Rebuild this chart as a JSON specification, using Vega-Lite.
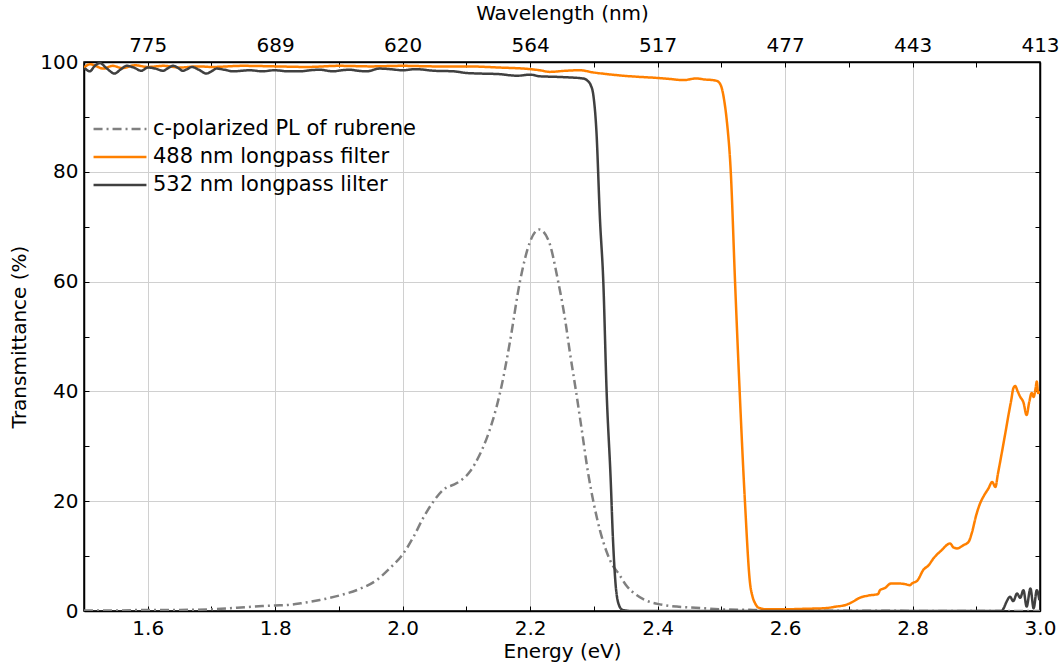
{
  "$schema": "https://vega.github.io/schema/vega-lite/v6.json",
  "width": 956,
  "height": 549,
  "autosize": {"type": "none"},
  "padding": {"left": 84, "top": 62, "right": 23, "bottom": 55},
  "background": "white",
  "config": {
    "font": "DejaVu Sans",
    "view": {"stroke": "black", "strokeWidth": 1.5},
    "axis": {
      "labelFont": "DejaVu Sans", "labelFontSize": 20, "labelColor": "black",
      "titleFont": "DejaVu Sans", "titleFontSize": 20, "titleFontWeight": "normal", "titleColor": "black",
      "domainColor": "black", "domainWidth": 1.5, "tickColor": "black", "tickWidth": 1,
      "gridColor": "#d0d0d0", "gridWidth": 1, "labelOverlap": false, "labelFlush": false
    }
  },
  "data": {"values": [
    {"E":1.50,"T":0.1,"s":"c-polarized PL of rubrene"},
    {"E":1.55,"T":0.1,"s":"c-polarized PL of rubrene"},
    {"E":1.60,"T":0.2,"s":"c-polarized PL of rubrene"},
    {"E":1.65,"T":0.2,"s":"c-polarized PL of rubrene"},
    {"E":1.70,"T":0.3,"s":"c-polarized PL of rubrene"},
    {"E":1.74,"T":0.6,"s":"c-polarized PL of rubrene"},
    {"E":1.78,"T":0.9,"s":"c-polarized PL of rubrene"},
    {"E":1.80,"T":1.0,"s":"c-polarized PL of rubrene"},
    {"E":1.82,"T":1.1,"s":"c-polarized PL of rubrene"},
    {"E":1.84,"T":1.4,"s":"c-polarized PL of rubrene"},
    {"E":1.87,"T":2.0,"s":"c-polarized PL of rubrene"},
    {"E":1.90,"T":2.8,"s":"c-polarized PL of rubrene"},
    {"E":1.93,"T":3.9,"s":"c-polarized PL of rubrene"},
    {"E":1.96,"T":5.7,"s":"c-polarized PL of rubrene"},
    {"E":1.98,"T":7.8,"s":"c-polarized PL of rubrene"},
    {"E":2.00,"T":10.3,"s":"c-polarized PL of rubrene"},
    {"E":2.017,"T":13.5,"s":"c-polarized PL of rubrene"},
    {"E":2.032,"T":16.9,"s":"c-polarized PL of rubrene"},
    {"E":2.048,"T":19.9,"s":"c-polarized PL of rubrene"},
    {"E":2.064,"T":22.1,"s":"c-polarized PL of rubrene"},
    {"E":2.085,"T":23.3,"s":"c-polarized PL of rubrene"},
    {"E":2.105,"T":25.3,"s":"c-polarized PL of rubrene"},
    {"E":2.121,"T":28.5,"s":"c-polarized PL of rubrene"},
    {"E":2.132,"T":31.5,"s":"c-polarized PL of rubrene"},
    {"E":2.14,"T":34.2,"s":"c-polarized PL of rubrene"},
    {"E":2.155,"T":40.9,"s":"c-polarized PL of rubrene"},
    {"E":2.168,"T":48.8,"s":"c-polarized PL of rubrene"},
    {"E":2.184,"T":60.0,"s":"c-polarized PL of rubrene"},
    {"E":2.20,"T":67.3,"s":"c-polarized PL of rubrene"},
    {"E":2.214,"T":69.5,"s":"c-polarized PL of rubrene"},
    {"E":2.2285,"T":67.6,"s":"c-polarized PL of rubrene"},
    {"E":2.244,"T":60.0,"s":"c-polarized PL of rubrene"},
    {"E":2.255,"T":53.0,"s":"c-polarized PL of rubrene"},
    {"E":2.2625,"T":47.0,"s":"c-polarized PL of rubrene"},
    {"E":2.272,"T":40.0,"s":"c-polarized PL of rubrene"},
    {"E":2.281,"T":33.0,"s":"c-polarized PL of rubrene"},
    {"E":2.291,"T":25.1,"s":"c-polarized PL of rubrene"},
    {"E":2.30,"T":19.5,"s":"c-polarized PL of rubrene"},
    {"E":2.31,"T":14.5,"s":"c-polarized PL of rubrene"},
    {"E":2.32,"T":10.8,"s":"c-polarized PL of rubrene"},
    {"E":2.33,"T":8.2,"s":"c-polarized PL of rubrene"},
    {"E":2.339,"T":6.8,"s":"c-polarized PL of rubrene"},
    {"E":2.35,"T":4.8,"s":"c-polarized PL of rubrene"},
    {"E":2.367,"T":2.9,"s":"c-polarized PL of rubrene"},
    {"E":2.38,"T":2.0,"s":"c-polarized PL of rubrene"},
    {"E":2.40,"T":1.3,"s":"c-polarized PL of rubrene"},
    {"E":2.43,"T":0.8,"s":"c-polarized PL of rubrene"},
    {"E":2.46,"T":0.6,"s":"c-polarized PL of rubrene"},
    {"E":2.50,"T":0.3,"s":"c-polarized PL of rubrene"},
    {"E":2.55,"T":0.2,"s":"c-polarized PL of rubrene"},
    {"E":2.60,"T":0.1,"s":"c-polarized PL of rubrene"},
    {"E":2.70,"T":0.05,"s":"c-polarized PL of rubrene"},
    {"E":2.80,"T":0.02,"s":"c-polarized PL of rubrene"},
    {"E":3.00,"T":0.0,"s":"c-polarized PL of rubrene"},
    {"E":1.500,"T":99.0,"s":"488 nm longpass filter"},
    {"E":1.510,"T":99.6,"s":"488 nm longpass filter"},
    {"E":1.520,"T":99.2,"s":"488 nm longpass filter"},
    {"E":1.530,"T":98.8,"s":"488 nm longpass filter"},
    {"E":1.545,"T":99.3,"s":"488 nm longpass filter"},
    {"E":1.560,"T":98.9,"s":"488 nm longpass filter"},
    {"E":1.580,"T":99.4,"s":"488 nm longpass filter"},
    {"E":1.600,"T":99.1,"s":"488 nm longpass filter"},
    {"E":1.625,"T":99.3,"s":"488 nm longpass filter"},
    {"E":1.650,"T":99.0,"s":"488 nm longpass filter"},
    {"E":1.680,"T":99.2,"s":"488 nm longpass filter"},
    {"E":1.700,"T":99.1,"s":"488 nm longpass filter"},
    {"E":1.750,"T":99.3,"s":"488 nm longpass filter"},
    {"E":1.800,"T":99.2,"s":"488 nm longpass filter"},
    {"E":1.850,"T":99.1,"s":"488 nm longpass filter"},
    {"E":1.900,"T":99.3,"s":"488 nm longpass filter"},
    {"E":1.950,"T":99.2,"s":"488 nm longpass filter"},
    {"E":2.000,"T":99.3,"s":"488 nm longpass filter"},
    {"E":2.050,"T":99.2,"s":"488 nm longpass filter"},
    {"E":2.100,"T":99.2,"s":"488 nm longpass filter"},
    {"E":2.150,"T":99.0,"s":"488 nm longpass filter"},
    {"E":2.200,"T":98.7,"s":"488 nm longpass filter"},
    {"E":2.215,"T":98.5,"s":"488 nm longpass filter"},
    {"E":2.231,"T":98.2,"s":"488 nm longpass filter"},
    {"E":2.255,"T":98.4,"s":"488 nm longpass filter"},
    {"E":2.278,"T":98.5,"s":"488 nm longpass filter"},
    {"E":2.299,"T":98.1,"s":"488 nm longpass filter"},
    {"E":2.320,"T":97.8,"s":"488 nm longpass filter"},
    {"E":2.346,"T":97.5,"s":"488 nm longpass filter"},
    {"E":2.370,"T":97.3,"s":"488 nm longpass filter"},
    {"E":2.399,"T":97.1,"s":"488 nm longpass filter"},
    {"E":2.420,"T":96.9,"s":"488 nm longpass filter"},
    {"E":2.440,"T":96.7,"s":"488 nm longpass filter"},
    {"E":2.461,"T":97.0,"s":"488 nm longpass filter"},
    {"E":2.475,"T":96.8,"s":"488 nm longpass filter"},
    {"E":2.487,"T":96.7,"s":"488 nm longpass filter"},
    {"E":2.494,"T":96.5,"s":"488 nm longpass filter"},
    {"E":2.500,"T":95.5,"s":"488 nm longpass filter"},
    {"E":2.5045,"T":93.0,"s":"488 nm longpass filter"},
    {"E":2.5085,"T":89.4,"s":"488 nm longpass filter"},
    {"E":2.5148,"T":80.0,"s":"488 nm longpass filter"},
    {"E":2.5215,"T":60.0,"s":"488 nm longpass filter"},
    {"E":2.528,"T":42.0,"s":"488 nm longpass filter"},
    {"E":2.537,"T":20.0,"s":"488 nm longpass filter"},
    {"E":2.545,"T":5.1,"s":"488 nm longpass filter"},
    {"E":2.549,"T":2.6,"s":"488 nm longpass filter"},
    {"E":2.553,"T":1.4,"s":"488 nm longpass filter"},
    {"E":2.557,"T":0.7,"s":"488 nm longpass filter"},
    {"E":2.561,"T":0.5,"s":"488 nm longpass filter"},
    {"E":2.571,"T":0.3,"s":"488 nm longpass filter"},
    {"E":2.598,"T":0.3,"s":"488 nm longpass filter"},
    {"E":2.630,"T":0.4,"s":"488 nm longpass filter"},
    {"E":2.661,"T":0.5,"s":"488 nm longpass filter"},
    {"E":2.680,"T":0.8,"s":"488 nm longpass filter"},
    {"E":2.695,"T":1.1,"s":"488 nm longpass filter"},
    {"E":2.705,"T":1.6,"s":"488 nm longpass filter"},
    {"E":2.717,"T":2.4,"s":"488 nm longpass filter"},
    {"E":2.730,"T":2.8,"s":"488 nm longpass filter"},
    {"E":2.746,"T":3.1,"s":"488 nm longpass filter"},
    {"E":2.749,"T":3.8,"s":"488 nm longpass filter"},
    {"E":2.757,"T":4.2,"s":"488 nm longpass filter"},
    {"E":2.766,"T":5.0,"s":"488 nm longpass filter"},
    {"E":2.779,"T":5.0,"s":"488 nm longpass filter"},
    {"E":2.788,"T":4.9,"s":"488 nm longpass filter"},
    {"E":2.796,"T":4.7,"s":"488 nm longpass filter"},
    {"E":2.799,"T":5.0,"s":"488 nm longpass filter"},
    {"E":2.808,"T":5.6,"s":"488 nm longpass filter"},
    {"E":2.817,"T":7.5,"s":"488 nm longpass filter"},
    {"E":2.825,"T":8.3,"s":"488 nm longpass filter"},
    {"E":2.833,"T":9.6,"s":"488 nm longpass filter"},
    {"E":2.845,"T":11.0,"s":"488 nm longpass filter"},
    {"E":2.859,"T":12.3,"s":"488 nm longpass filter"},
    {"E":2.864,"T":11.6,"s":"488 nm longpass filter"},
    {"E":2.870,"T":11.4,"s":"488 nm longpass filter"},
    {"E":2.880,"T":12.0,"s":"488 nm longpass filter"},
    {"E":2.888,"T":12.6,"s":"488 nm longpass filter"},
    {"E":2.893,"T":14.2,"s":"488 nm longpass filter"},
    {"E":2.900,"T":17.5,"s":"488 nm longpass filter"},
    {"E":2.906,"T":19.6,"s":"488 nm longpass filter"},
    {"E":2.912,"T":21.0,"s":"488 nm longpass filter"},
    {"E":2.919,"T":22.3,"s":"488 nm longpass filter"},
    {"E":2.925,"T":23.5,"s":"488 nm longpass filter"},
    {"E":2.930,"T":22.6,"s":"488 nm longpass filter"},
    {"E":2.934,"T":25.0,"s":"488 nm longpass filter"},
    {"E":2.938,"T":27.5,"s":"488 nm longpass filter"},
    {"E":2.945,"T":32.0,"s":"488 nm longpass filter"},
    {"E":2.951,"T":36.0,"s":"488 nm longpass filter"},
    {"E":2.955,"T":38.5,"s":"488 nm longpass filter"},
    {"E":2.958,"T":40.5,"s":"488 nm longpass filter"},
    {"E":2.961,"T":41.0,"s":"488 nm longpass filter"},
    {"E":2.965,"T":40.0,"s":"488 nm longpass filter"},
    {"E":2.969,"T":39.0,"s":"488 nm longpass filter"},
    {"E":2.974,"T":38.0,"s":"488 nm longpass filter"},
    {"E":2.979,"T":35.7,"s":"488 nm longpass filter"},
    {"E":2.983,"T":38.0,"s":"488 nm longpass filter"},
    {"E":2.987,"T":39.7,"s":"488 nm longpass filter"},
    {"E":2.990,"T":39.0,"s":"488 nm longpass filter"},
    {"E":2.993,"T":40.5,"s":"488 nm longpass filter"},
    {"E":2.995,"T":41.8,"s":"488 nm longpass filter"},
    {"E":2.997,"T":39.7,"s":"488 nm longpass filter"},
    {"E":3.000,"T":40.0,"s":"488 nm longpass filter"},
    {"E":1.501,"T":98.9,"s":"532 nm longpass lilter"},
    {"E":1.509,"T":98.3,"s":"532 nm longpass lilter"},
    {"E":1.517,"T":99.3,"s":"532 nm longpass lilter"},
    {"E":1.525,"T":99.8,"s":"532 nm longpass lilter"},
    {"E":1.535,"T":98.9,"s":"532 nm longpass lilter"},
    {"E":1.548,"T":97.9,"s":"532 nm longpass lilter"},
    {"E":1.557,"T":98.6,"s":"532 nm longpass lilter"},
    {"E":1.567,"T":99.3,"s":"532 nm longpass lilter"},
    {"E":1.578,"T":99.0,"s":"532 nm longpass lilter"},
    {"E":1.590,"T":98.4,"s":"532 nm longpass lilter"},
    {"E":1.600,"T":99.0,"s":"532 nm longpass lilter"},
    {"E":1.612,"T":98.8,"s":"532 nm longpass lilter"},
    {"E":1.624,"T":98.4,"s":"532 nm longpass lilter"},
    {"E":1.632,"T":98.9,"s":"532 nm longpass lilter"},
    {"E":1.640,"T":99.3,"s":"532 nm longpass lilter"},
    {"E":1.648,"T":98.9,"s":"532 nm longpass lilter"},
    {"E":1.655,"T":98.4,"s":"532 nm longpass lilter"},
    {"E":1.662,"T":98.7,"s":"532 nm longpass lilter"},
    {"E":1.669,"T":99.1,"s":"532 nm longpass lilter"},
    {"E":1.680,"T":98.6,"s":"532 nm longpass lilter"},
    {"E":1.692,"T":97.9,"s":"532 nm longpass lilter"},
    {"E":1.700,"T":98.3,"s":"532 nm longpass lilter"},
    {"E":1.708,"T":98.8,"s":"532 nm longpass lilter"},
    {"E":1.720,"T":98.6,"s":"532 nm longpass lilter"},
    {"E":1.734,"T":98.3,"s":"532 nm longpass lilter"},
    {"E":1.747,"T":98.4,"s":"532 nm longpass lilter"},
    {"E":1.760,"T":98.5,"s":"532 nm longpass lilter"},
    {"E":1.780,"T":98.3,"s":"532 nm longpass lilter"},
    {"E":1.799,"T":98.5,"s":"532 nm longpass lilter"},
    {"E":1.820,"T":98.3,"s":"532 nm longpass lilter"},
    {"E":1.839,"T":98.3,"s":"532 nm longpass lilter"},
    {"E":1.855,"T":98.5,"s":"532 nm longpass lilter"},
    {"E":1.870,"T":98.6,"s":"532 nm longpass lilter"},
    {"E":1.890,"T":98.3,"s":"532 nm longpass lilter"},
    {"E":1.905,"T":98.5,"s":"532 nm longpass lilter"},
    {"E":1.917,"T":98.6,"s":"532 nm longpass lilter"},
    {"E":1.930,"T":98.4,"s":"532 nm longpass lilter"},
    {"E":1.943,"T":98.3,"s":"532 nm longpass lilter"},
    {"E":1.964,"T":98.8,"s":"532 nm longpass lilter"},
    {"E":1.980,"T":98.7,"s":"532 nm longpass lilter"},
    {"E":2.000,"T":98.5,"s":"532 nm longpass lilter"},
    {"E":2.020,"T":98.7,"s":"532 nm longpass lilter"},
    {"E":2.050,"T":98.4,"s":"532 nm longpass lilter"},
    {"E":2.080,"T":98.3,"s":"532 nm longpass lilter"},
    {"E":2.100,"T":98.0,"s":"532 nm longpass lilter"},
    {"E":2.120,"T":97.9,"s":"532 nm longpass lilter"},
    {"E":2.150,"T":97.8,"s":"532 nm longpass lilter"},
    {"E":2.180,"T":97.5,"s":"532 nm longpass lilter"},
    {"E":2.200,"T":97.7,"s":"532 nm longpass lilter"},
    {"E":2.215,"T":97.4,"s":"532 nm longpass lilter"},
    {"E":2.240,"T":97.3,"s":"532 nm longpass lilter"},
    {"E":2.260,"T":97.2,"s":"532 nm longpass lilter"},
    {"E":2.283,"T":97.0,"s":"532 nm longpass lilter"},
    {"E":2.291,"T":96.5,"s":"532 nm longpass lilter"},
    {"E":2.295,"T":95.8,"s":"532 nm longpass lilter"},
    {"E":2.299,"T":94.1,"s":"532 nm longpass lilter"},
    {"E":2.304,"T":87.4,"s":"532 nm longpass lilter"},
    {"E":2.3096,"T":71.3,"s":"532 nm longpass lilter"},
    {"E":2.3148,"T":60.0,"s":"532 nm longpass lilter"},
    {"E":2.320,"T":40.0,"s":"532 nm longpass lilter"},
    {"E":2.3264,"T":23.9,"s":"532 nm longpass lilter"},
    {"E":2.330,"T":13.0,"s":"532 nm longpass lilter"},
    {"E":2.334,"T":5.0,"s":"532 nm longpass lilter"},
    {"E":2.339,"T":1.2,"s":"532 nm longpass lilter"},
    {"E":2.345,"T":0.2,"s":"532 nm longpass lilter"},
    {"E":2.360,"T":0.0,"s":"532 nm longpass lilter"},
    {"E":2.600,"T":0.0,"s":"532 nm longpass lilter"},
    {"E":2.940,"T":0.0,"s":"532 nm longpass lilter"},
    {"E":2.943,"T":0.5,"s":"532 nm longpass lilter"},
    {"E":2.948,"T":1.8,"s":"532 nm longpass lilter"},
    {"E":2.953,"T":2.6,"s":"532 nm longpass lilter"},
    {"E":2.958,"T":1.8,"s":"532 nm longpass lilter"},
    {"E":2.964,"T":3.2,"s":"532 nm longpass lilter"},
    {"E":2.969,"T":2.4,"s":"532 nm longpass lilter"},
    {"E":2.974,"T":3.8,"s":"532 nm longpass lilter"},
    {"E":2.979,"T":0.8,"s":"532 nm longpass lilter"},
    {"E":2.985,"T":4.1,"s":"532 nm longpass lilter"},
    {"E":2.990,"T":0.5,"s":"532 nm longpass lilter"},
    {"E":2.995,"T":3.8,"s":"532 nm longpass lilter"},
    {"E":2.999,"T":2.0,"s":"532 nm longpass lilter"}
  ]},
  "resolve": {"axis": {"x": "independent", "y": "independent"}},
  "layer": [
    {
      "mark": {"type": "line", "strokeWidth": 2.5, "clip": true, "interpolate": "monotone"},
      "encoding": {
        "x": {"field": "E", "type": "quantitative",
          "scale": {"domain": [1.5, 3.0], "nice": false, "zero": false},
          "axis": {"title": "Energy (eV)", "orient": "bottom",
            "values": [1.6,1.7,1.8,1.9,2.0,2.1,2.2,2.3,2.4,2.5,2.6,2.7,2.8,2.9,3.0],
            "labelExpr": "round(datum.value*10)%2==0 ? format(datum.value,'.1f') : ''",
            "gridOpacity": {"condition": {"test": "round(datum.value*10)%2==1", "value": 0}, "value": 1},
            "tickSize": -5, "labelPadding": 12, "titlePadding": 3}},
        "y": {"field": "T", "type": "quantitative",
          "scale": {"domain": [0, 100], "nice": false},
          "axis": {"title": "Transmittance (%)", "orient": "left",
            "values": [0,10,20,30,40,50,60,70,80,90,100],
            "labelExpr": "datum.value%20==0 ? datum.label : ''",
            "gridOpacity": {"condition": {"test": "datum.value%20!=0", "value": 0}, "value": 1},
            "tickSize": -5, "labelPadding": 11, "titlePadding": 10}},
        "color": {"field": "s", "type": "nominal",
          "scale": {"domain": ["c-polarized PL of rubrene", "488 nm longpass filter", "532 nm longpass lilter"],
                    "range": ["#808080", "#ff8000", "#404040"]},
          "legend": {"title": null, "orient": "none", "legendX": 8, "legendY": 53,
            "symbolType": "stroke", "symbolSize": 2800, "symbolStrokeWidth": 2.5,
            "labelFontSize": 21, "labelFont": "DejaVu Sans", "labelColor": "black",
            "labelOffset": 5, "labelLimit": 400, "rowPadding": 0, "clipHeight": 28, "padding": 0}},
        "strokeDash": {"field": "s", "type": "nominal",
          "scale": {"domain": ["c-polarized PL of rubrene", "488 nm longpass filter", "532 nm longpass lilter"],
                    "range": [[9,4,2,4],[1,0],[1,0]]},
          "legend": {"title": null, "orient": "none", "legendX": 8, "legendY": 53,
            "symbolType": "stroke", "symbolSize": 2800, "symbolStrokeWidth": 2.5,
            "labelFontSize": 21, "labelFont": "DejaVu Sans", "labelColor": "black",
            "labelOffset": 5, "labelLimit": 400, "rowPadding": 0, "clipHeight": 28, "padding": 0}}
      }
    },
    {
      "mark": {"type": "line", "strokeOpacity": 0},
      "encoding": {
        "x": {"field": "E", "type": "quantitative",
          "scale": {"domain": [1.5, 3.0], "nice": false, "zero": false},
          "axis": {"title": "Wavelength (nm)", "orient": "top", "grid": false,
            "values": [1.6,1.7,1.8,1.9,2.0,2.1,2.2,2.3,2.4,2.5,2.6,2.7,2.8,2.9,3.0],
            "labelExpr": "round(datum.value*10)%2==0 ? format(1240/datum.value,'.0f') : ''",
            "tickSize": -5, "labelPadding": 12, "titlePadding": 12}},
        "y": {"field": "T", "type": "quantitative",
          "scale": {"domain": [0, 100], "nice": false},
          "axis": {"title": null, "orient": "right", "grid": false, "labels": false,
            "values": [0,10,20,30,40,50,60,70,80,90,100], "tickSize": -5}},
        "detail": {"field": "s", "type": "nominal"}
      }
    }
  ]
}
